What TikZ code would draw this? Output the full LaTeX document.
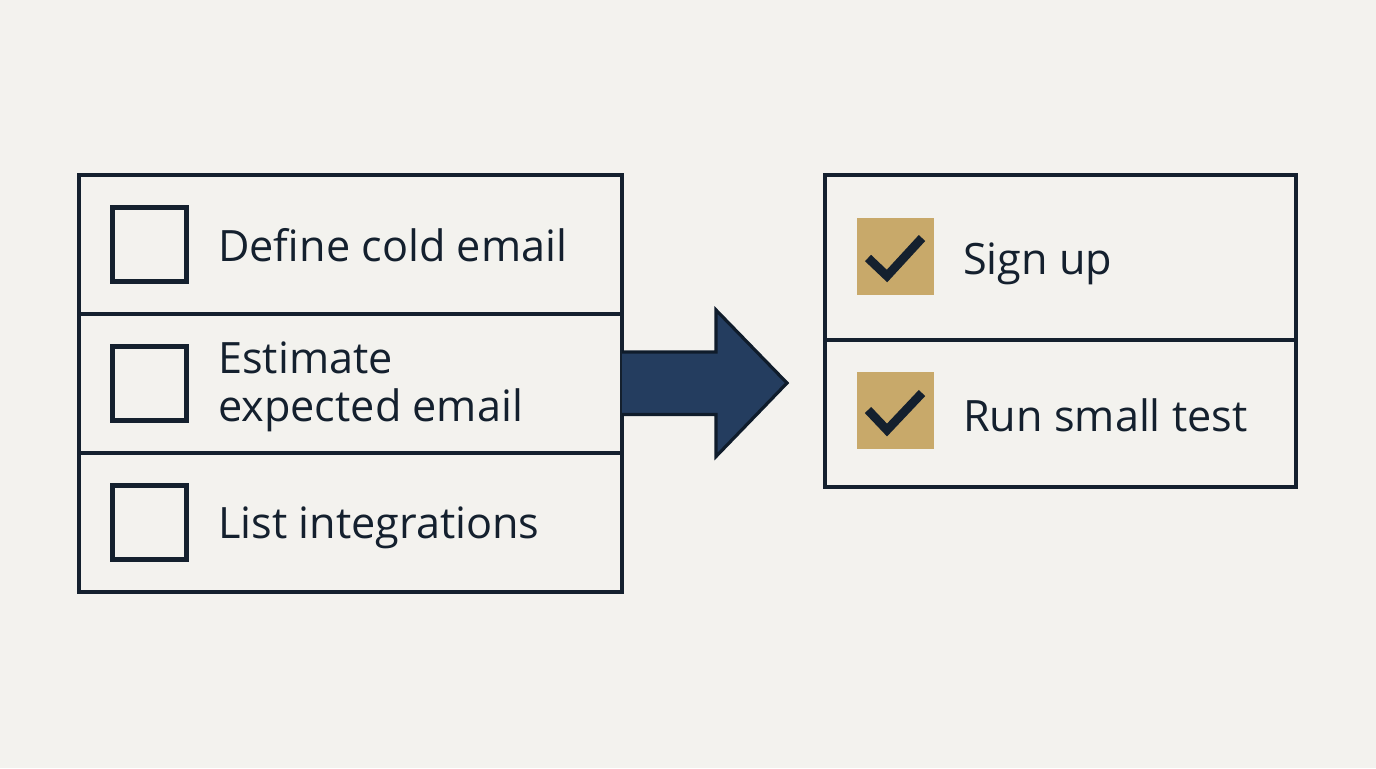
\documentclass[tikz,border=0pt]{standalone}
\usepackage{fontspec}
\setmainfont{Open Sans}
\usetikzlibrary{calc}
\definecolor{bgc}{HTML}{F3F2EE}
\definecolor{ink}{HTML}{14202E}
\definecolor{gold}{HTML}{C8A96A}
\definecolor{navy}{HTML}{243D5F}
\definecolor{navyline}{HTML}{0F1C2B}
\tikzset{
  cell/.style={draw=ink, line width=3.4pt, inner sep=0pt, outer sep=0pt, anchor=north west},
  emptybox/.style={draw=ink, line width=3.4pt, inner sep=0pt, outer sep=0pt, minimum width=55.5pt, minimum height=55.5pt},
  donebox/.style={fill=gold, inner sep=0pt, outer sep=0pt, minimum width=57.75pt, minimum height=57.75pt},
  tick/.style={draw=ink, line width=6.6pt, line cap=butt, line join=miter},
  label/.style={anchor=base west, inner sep=0pt, text=ink, font=\fontsize{32.4}{36}\selectfont},
  bigarrow/.style={fill=navy, draw=navyline, line width=2.4pt, line join=miter}
}
\begin{document}
\begin{tikzpicture}[x=0.75pt, y=-0.75pt]
\fill[bgc] (0,0) rectangle (1376,768);
\useasboundingbox (0,0) rectangle (1376,768);
% left list
\node[cell, minimum width=407.25pt, minimum height=104.25pt] (L1) at (79,175) {};
\node[cell, minimum width=407.25pt, minimum height=104.25pt] (L2) at (79,314) {};
\node[cell, minimum width=407.25pt, minimum height=104.25pt] (L3) at (79,453) {};
\node[emptybox] (B1) at (149.5,244.5) {};
\node[emptybox] (B2) at (149.5,383.5) {};
\node[emptybox] (B3) at (149.5,522.5) {};
\node[label] (T1) at (218,261) {Define cold email};
\node[label, align=left] (T2) at (218,421) {Estimate\\expected email};
\node[label] (T3) at (218,538) {List integrations};
% right list
\node[cell, minimum width=353.25pt, minimum height=123.75pt] (R1) at (825,175) {};
\node[cell, minimum width=353.25pt, minimum height=110.25pt] (R2) at (825,340) {};
\node[donebox] (C1) at (895.5,256) {};
\node[donebox] (C2) at (895.5,410.5) {};
\draw[tick] ($(C1.center)+(-27.5,2)$) -- ++(19,18) -- ++(35,-38);
\draw[tick] ($(C2.center)+(-27.5,-0.5)$) -- ++(19,20) -- ++(35,-37);
\node[label] (T4) at (963,274) {Sign up};
\node[label] (T5) at (963,431) {Run small test};
% arrow
\coordinate (tip) at (787,383);
\draw[bigarrow] ($(L2.east)+(0,-31.5)$) -- ++(94,0) -- ++(0,-42) -- (tip)
  -- ($(L2.east)+(94,73)$) -- ++(0,-42) -- ($(L2.east)+(0,31)$);
\end{tikzpicture}
\end{document}
